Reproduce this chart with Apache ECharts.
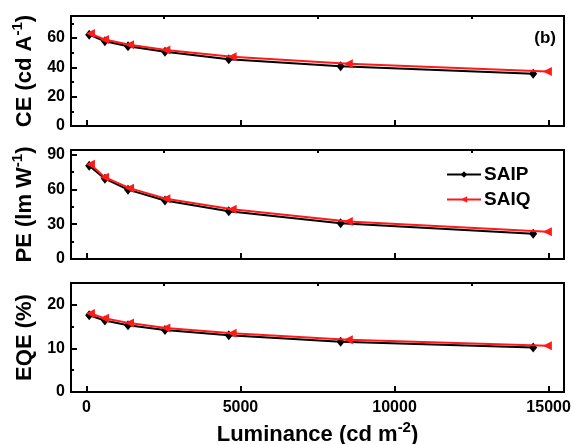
<!DOCTYPE html>
<html>
<head>
<meta charset="utf-8">
<script src="https://cdn.jsdelivr.net/npm/echarts@6/dist/echarts.min.js"></script>
<style>
html,body{margin:0;padding:0;background:#fff;}
#chart{width:574px;height:444px;}
</style>
</head>
<body>
<div id="chart"></div>
<script>
// ---- data ----
const seriesNames = ['SAIP', 'SAIQ'];
const luminanceSAIP = [90, 600, 1350, 2550, 4620, 8250, 14500];
const luminanceSAIQ = [130, 590, 1400, 2580, 4730, 8500, 14960];
const ceSAIP = [62.3, 57.8, 54.4, 50.6, 45.5, 40.8, 35.6];
const ceSAIQ = [63.0, 59.0, 55.4, 51.8, 47.2, 42.4, 37.2];
const peSAIP = [80.5, 69.3, 59.8, 50.5, 41.2, 30.8, 21.8];
const peSAIQ = [81.7, 70.6, 61.1, 52.0, 43.0, 32.4, 23.6];
const eqeSAIP = [17.6, 16.4, 15.3, 14.2, 13.0, 11.5, 10.2];
const eqeSAIQ = [18.0, 16.9, 15.8, 14.7, 13.5, 12.0, 10.6];
const xMajorTicks = [0, 5000, 10000, 15000];
const xMinorTicks = [2500, 7500, 12500];
const ceMajor = [0, 20, 40, 60], ceMinor = [10, 30, 50, 70];
const peMajor = [0, 30, 60, 90], peMinor = [15, 45, 75];
const eqeMajor = [0, 10, 20], eqeMinor = [5, 15];

const FONT = 'Liberation Sans, Arial, sans-serif';
const zip = (xs, ys) => xs.map((x, i) => [x, ys[i]]);

const grids = [
  {left: 71, right: 10, top: 16, height: 110},
  {left: 71, right: 10, top: 150, height: 109},
  {left: 71, right: 10, top: 283, height: 109}
].map(g => Object.assign(g, {
  show: true, borderColor: '#000', borderWidth: 2, backgroundColor: 'transparent',
  containLabel: false, outerBoundsMode: 'none'
}));

const richName = {
  b: {fontSize: 22, fontWeight: 'bold', fontFamily: FONT, color: '#000', verticalAlign: 'bottom', lineHeight: 26},
  sup: {fontSize: 15, fontWeight: 'bold', fontFamily: FONT, color: '#000', verticalAlign: 'top', lineHeight: 16}
};

const xAxes = [], yAxes = [];
for (let g = 0; g < 3; g++) {
  const isBottom = g === 2;
  xAxes.push({
    type: 'value', gridIndex: g, min: -500, max: 15500,
    axisLine: {onZero: false, lineStyle: {color: '#000', width: 2}},
    axisTick: {inside: true, length: 6, lineStyle: {color: '#000', width: 2}, customValues: xMajorTicks},
    axisLabel: {show: isBottom, customValues: xMajorTicks, formatter: v => String(v), color: '#000', fontSize: 16, fontWeight: 'bold', fontFamily: FONT, margin: 8},
    splitLine: {show: false},
    name: isBottom ? '{b|Luminance (cd m}{sup|-2}{b|)}' : '',
    nameLocation: 'middle', nameGap: 28,
    nameTextStyle: {rich: richName}
  });
  xAxes.push({
    type: 'value', gridIndex: g, min: -500, max: 15500,
    axisLine: {show: false, onZero: false},
    axisTick: {inside: true, length: 3, lineStyle: {color: '#000', width: 2}, customValues: xMinorTicks},
    axisLabel: {show: false}, splitLine: {show: false}
  });
}
const yDefs = [
  {max: 75, major: ceMajor, minor: ceMinor, name: '{b|CE (cd A}{sup|-1}{b|)}'},
  {max: 94, major: peMajor, minor: peMinor, name: '{b|PE (lm W}{sup|-1}{b|)}'},
  {max: 25, major: eqeMajor, minor: eqeMinor, name: '{b|EQE (%)}'}
];
yDefs.forEach((d, g) => {
  yAxes.push({
    type: 'value', gridIndex: g, min: 0, max: d.max,
    axisLine: {show: true, onZero: false, lineStyle: {color: '#000', width: 2}},
    axisTick: {show: true, inside: true, length: 6, lineStyle: {color: '#000', width: 2}, customValues: d.major},
    axisLabel: {customValues: d.major, color: '#000', fontSize: 16, fontWeight: 'bold', fontFamily: FONT, margin: 6},
    splitLine: {show: false},
    name: d.name, nameLocation: 'middle', nameGap: 28,
    nameTextStyle: {rich: richName}
  });
  yAxes.push({
    type: 'value', gridIndex: g, min: 0, max: d.max, position: 'left',
    axisLine: {show: false, onZero: false},
    axisTick: {show: true, inside: true, length: 3, lineStyle: {color: '#000', width: 2}, customValues: d.minor},
    axisLabel: {show: false}, splitLine: {show: false}
  });
});

const panels = [[ceSAIP, ceSAIQ], [peSAIP, peSAIQ], [eqeSAIP, eqeSAIQ]];
const series = [];
panels.forEach((p, g) => {
  series.push({
    name: seriesNames[0], type: 'line', xAxisIndex: g * 2, yAxisIndex: g * 2,
    data: zip(luminanceSAIP, p[0]),
    symbol: 'diamond', symbolSize: [8, 10],
    lineStyle: {color: '#000', width: 2}, itemStyle: {color: '#000'},
    animation: false, z: 3
  });
  series.push({
    name: seriesNames[1], type: 'line', xAxisIndex: g * 2, yAxisIndex: g * 2,
    data: zip(luminanceSAIQ, p[1]),
    symbol: 'triangle', symbolRotate: 90, symbolSize: [9, 9],
    lineStyle: {color: '#ff1a1a', width: 2}, itemStyle: {color: '#ff1a1a'},
    animation: false, z: 4
  });
});

const chart = echarts.init(document.getElementById('chart'), null, {renderer: 'canvas'});
chart.setOption({
  backgroundColor: '#fff',
  animation: false,
  grid: grids,
  xAxis: xAxes,
  yAxis: yAxes,
  legend: {
    data: seriesNames, orient: 'vertical', left: 441, top: 160,
    itemWidth: 34, itemHeight: 8, itemGap: 6,
    textStyle: {fontSize: 19, fontWeight: 'bold', fontFamily: FONT, color: '#000', padding: [0, 0, 0, -2]}
  },
  graphic: [{
    type: 'text', right: 18, top: 30,
    style: {text: '(b)', fontSize: 17, fontWeight: 'bold', fontFamily: FONT, fill: '#000'}
  }],
  series: series
});
</script>
</body>
</html>
